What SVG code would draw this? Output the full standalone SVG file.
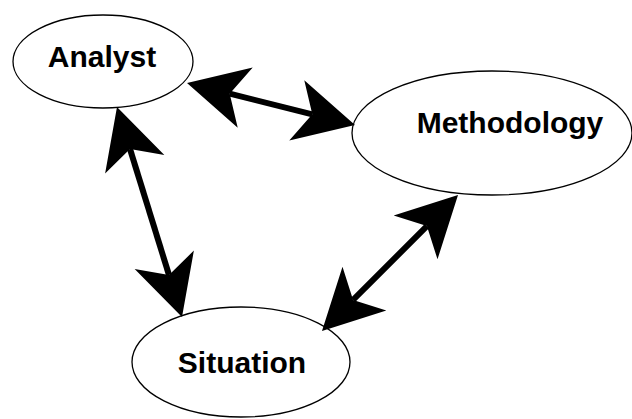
<svg xmlns="http://www.w3.org/2000/svg" width="632" height="419" viewBox="0 0 632 419">
<style>
.node ellipse{fill:#fff;stroke:#000;stroke-width:1.3}
.node text{font-family:"Liberation Sans",Arial,sans-serif;font-weight:bold;font-size:30px;fill:#000;text-anchor:middle}
.conn line{stroke:#000;stroke-width:6;fill:none}
</style>
<defs>
<marker id="ah" markerUnits="userSpaceOnUse" markerWidth="70" markerHeight="70" viewBox="-20 -35 70 70" refX="0" refY="0" orient="auto-start-reverse" overflow="visible">
<path d="M44,0 L-16,-31 L0,0 L-16,31 Z" fill="#000"/>
</marker>
</defs>
<rect width="632" height="419" fill="#fff"/>
<g id="analyst" class="node">
<ellipse cx="103" cy="61.5" rx="90" ry="46.5"/>
<text x="102" y="67">Analyst</text>
</g>
<g id="methodology" class="node">
<ellipse cx="492" cy="133" rx="140" ry="62"/>
<text x="510" y="133">Methodology</text>
</g>
<g id="situation" class="node">
<ellipse cx="241" cy="362" rx="109" ry="55"/>
<text x="242" y="373">Situation</text>
</g>
<g id="connectors" class="conn">
<line x1="229.7" y1="93.7" x2="312.3" y2="114.3" marker-start="url(#ah)" marker-end="url(#ah)"/>
<line x1="130" y1="149" x2="169" y2="275" marker-start="url(#ah)" marker-end="url(#ah)"/>
<line x1="426.9" y1="226.1" x2="353.1" y2="299.9" marker-start="url(#ah)" marker-end="url(#ah)"/>
</g>
</svg>
